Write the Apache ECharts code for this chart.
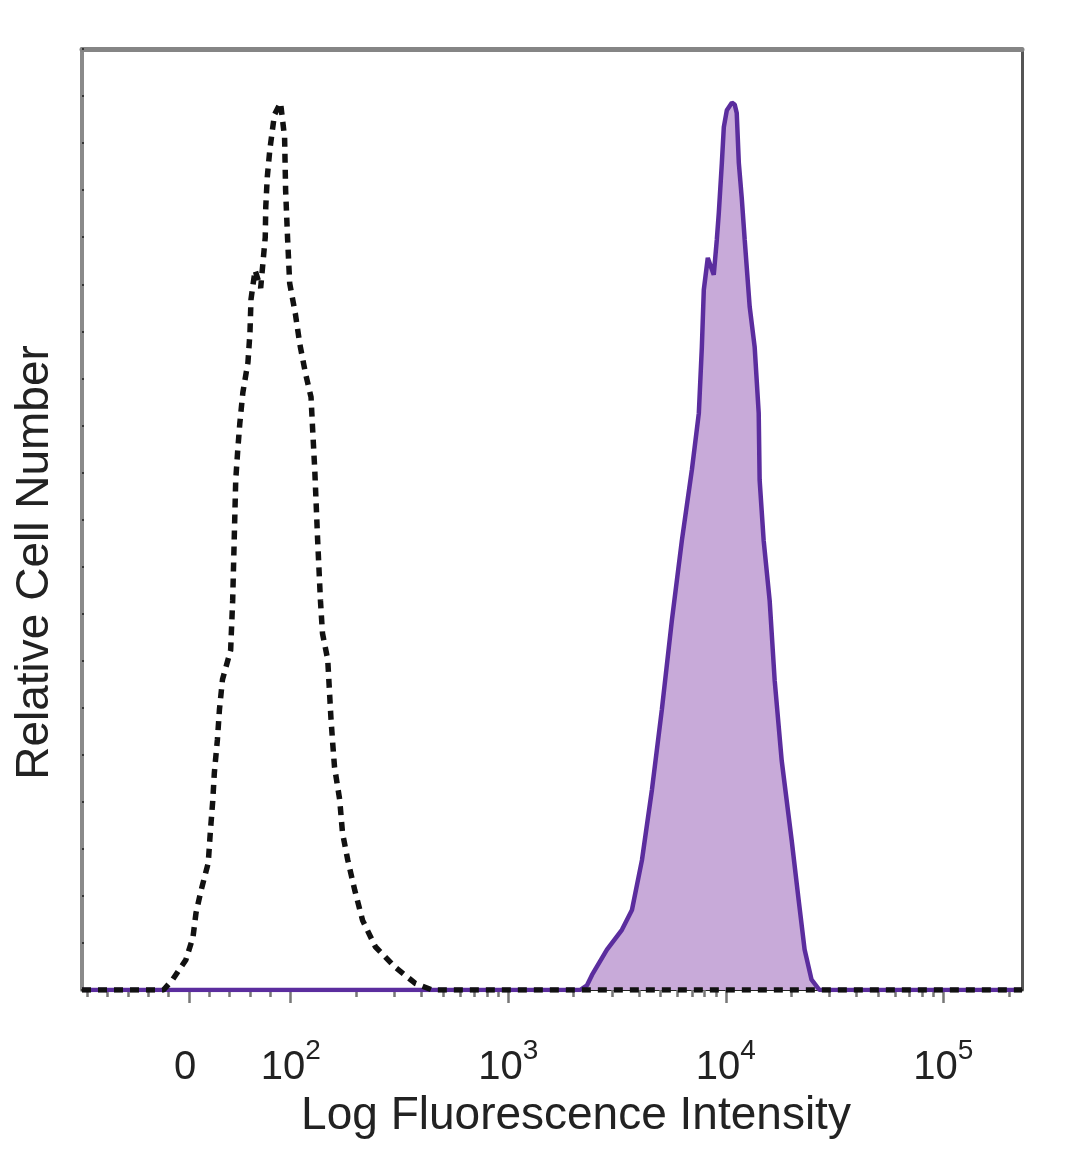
<!DOCTYPE html>
<html><head><meta charset="utf-8">
<script src="https://cdn.jsdelivr.net/npm/echarts@6/dist/echarts.min.js"></script>
<style>html,body{margin:0;padding:0;background:#fff}#c{width:1080px;height:1169px}</style>
</head><body><div id="c"></div>
<script>
// Isotype control histogram (dashed black): fluorescence intensity, relative count
const isoX = [-105, -25, -16, -3, 4, 7, 12, 19, 21, 23.5, 25, 28, 30, 33, 41, 43, 46, 48, 50, 53, 58, 60, 61, 65, 70.5, 75, 75.5, 77, 79.5, 84, 90, 94, 95, 97, 99, 105, 110, 117, 124, 126, 129, 133, 137, 140, 148, 153, 156, 159, 168, 173, 183, 197, 214, 245, 303, 374, 448, 230000];
const isoY = [0, 0, 1.1, 3.2, 5.6, 8.2, 10.6, 13.5, 16.7, 20.2, 23.1, 26.6, 29.8, 33.0, 36.1, 41.4, 54.2, 57.4, 60.2, 63.5, 66.7, 69.9, 73.4, 76.5, 74.6, 80.0, 83.2, 86.4, 89.3, 93.0, 94.3, 90.6, 85.0, 79.7, 75.1, 71.9, 68.7, 65.5, 63.0, 59.8, 55.3, 47.8, 41.4, 37.9, 35.1, 29.0, 26.2, 23.7, 20.2, 16.7, 13.8, 10.6, 7.4, 4.6, 2.4, 0.7, 0, 0];
// Stained sample histogram (filled purple)
const sampleX = [-105, 2138, 2302, 2427, 2843, 3331, 3704, 4118, 4578, 5084, 5653, 6285, 6987, 7518, 7762, 7925, 8267, 8805, 9093, 9290, 9594, 9795, 10115, 10665, 10990, 11230, 11480, 11840, 12220, 12880, 13580, 14170, 14310, 14930, 15910, 16780, 18070, 20090, 21620, 23030, 24790, 26970, 230000];
const sampleY = [0, 0, 0.5, 1.6, 4.3, 6.4, 8.5, 13.8, 21.3, 29.8, 39.3, 47.8, 55.3, 61.3, 68.3, 74.4, 77.8, 76.0, 79.7, 82.6, 87.9, 91.7, 93.5, 94.3, 94.1, 93.2, 87.9, 84.2, 79.7, 72.6, 68.3, 61.3, 54.2, 47.8, 41.4, 32.9, 24.4, 15.9, 9.6, 4.3, 1.1, 0, 0];
// Axis ticks (intensity values) and labels
const majorTickValues = [0, 100, 1000, 10000, 100000];
const majorTickLabels = ['0', '10^2', '10^3', '10^4', '10^5'];
const minorTickValues = [-100, -80, -60, -40, -20, 20, 40, 60, 80,
  200, 300, 400, 500, 600, 700, 800, 900,
  2000, 3000, 4000, 5000, 6000, 7000, 8000, 9000,
  20000, 30000, 40000, 50000, 60000, 70000, 80000, 90000, 200000];
const xRange = [-105, 230000];
const xTitle = 'Log Fluorescence Intensity';
const yTitle = 'Relative Cell Number';

// biexponential-like display scale: linear near zero, log above 100
function fwd(v) { return v >= 100 ? Math.log10(v) : 2 - (100 - v) / 100 * 0.468; }

const majorPos = majorTickValues.map(fwd);
const minorPos = minorTickValues.map(fwd);
function labelFor(pos) {
  let best = 0, d = Infinity;
  majorPos.forEach((p, i) => { if (Math.abs(p - pos) < d) { d = Math.abs(p - pos); best = i; } });
  const t = majorTickLabels[best];
  if (t.indexOf('^') < 0) return '{b|' + t + '}{s| }';
  const [b, s] = t.split('^');
  return '{b|' + b + '}{s|' + s + '}';
}

const chart = echarts.init(document.getElementById('c'), null, {renderer: 'canvas'});
const FONT = '"Liberation Sans", Arial, sans-serif';
chart.setOption({
  animation: false,
  backgroundColor: '#fff',
  grid: {left: 82, right: 58, top: 49, bottom: 179},
  xAxis: [
    {
      type: 'value', position: 'bottom', min: fwd(xRange[0]), max: fwd(xRange[1]),
      axisLine: {show: true, lineStyle: {color: '#222', width: 2}},
      axisTick: {show: true, customValues: majorPos, length: 13, lineStyle: {color: '#777', width: 2.5}},
      axisLabel: {
        show: true, customValues: majorPos, margin: 47,
        formatter: (v) => labelFor(v),
        rich: {
          b: {fontSize: 40, fontFamily: FONT, color: '#222'},
          s: {fontSize: 28, fontFamily: FONT, color: '#222', padding: [0, 0, 34, 0]}
        }
      },
      splitLine: {show: false},
      name: xTitle, nameLocation: 'middle', nameGap: 100,
      nameTextStyle: {fontSize: 46, fontFamily: FONT, color: '#222', padding: [0, 0, 0, 48]}
    },
    {
      type: 'value', position: 'bottom', min: fwd(xRange[0]), max: fwd(xRange[1]),
      axisLine: {show: false},
      axisTick: {show: true, customValues: minorPos, length: 7, lineStyle: {color: '#777', width: 2.5}},
      axisLabel: {show: false}, splitLine: {show: false}
    },
    {
      type: 'value', position: 'top', min: fwd(xRange[0]), max: fwd(xRange[1]),
      axisLine: {show: true, lineStyle: {color: '#858585', width: 5}},
      axisTick: {show: false}, axisLabel: {show: false}, splitLine: {show: false}
    }
  ],
  yAxis: [
    {
      type: 'value', position: 'left', min: 0, max: 100, interval: 5,
      axisLine: {show: true, lineStyle: {color: '#8a8a8a', width: 4}},
      axisTick: {show: true, inside: true, length: 2, lineStyle: {color: '#333', width: 2}},
      axisLabel: {show: false}, splitLine: {show: false},
      name: yTitle, nameLocation: 'middle', nameGap: 24,
      nameTextStyle: {fontSize: 46, fontFamily: FONT, color: '#222', padding: [0, 86, 0, 0]}
    },
    {
      type: 'value', position: 'right', min: 0, max: 100,
      axisLine: {show: true, lineStyle: {color: '#555', width: 3}},
      axisTick: {show: false}, axisLabel: {show: false}, splitLine: {show: false}
    }
  ],
  series: [
    {
      name: 'Sample', type: 'line', xAxisIndex: 0, yAxisIndex: 0,
      data: sampleX.map((x, i) => [fwd(x), sampleY[i]]),
      showSymbol: false, symbol: 'none', smooth: false,
      lineStyle: {color: '#5b2d9e', width: 4.5},
      areaStyle: {color: '#c8aad9', opacity: 1},
      z: 2
    },
    {
      name: 'Isotype', type: 'line', xAxisIndex: 0, yAxisIndex: 0,
      data: isoX.map((x, i) => [fwd(x), isoY[i]]),
      showSymbol: false, symbol: 'none', smooth: false,
      lineStyle: {color: '#111', width: 5.5, type: [9, 7]},
      z: 3
    }
  ]
});
</script></body></html>
